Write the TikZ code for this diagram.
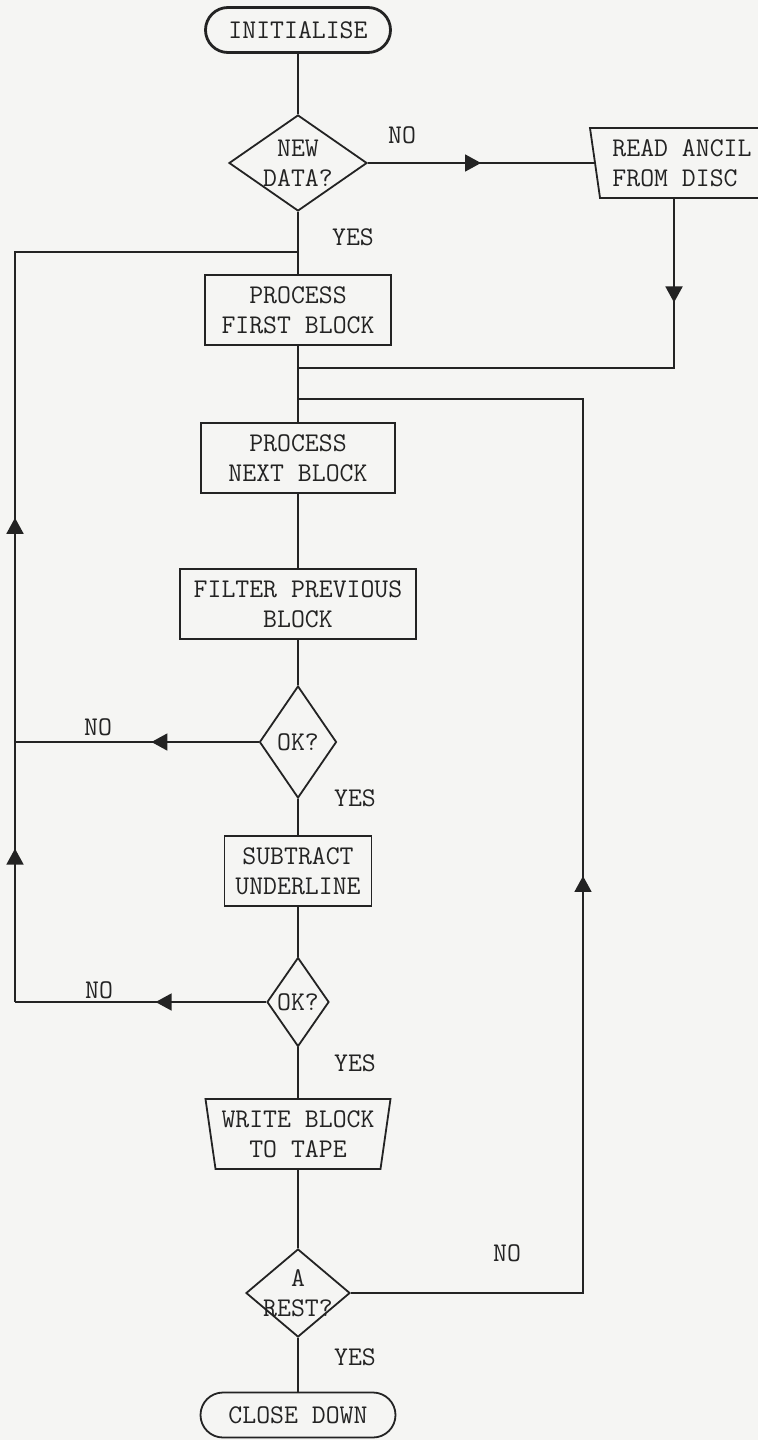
\documentclass[tikz,border=0pt]{standalone}
\usetikzlibrary{shapes.geometric,shapes.misc,arrows.meta,decorations.markings}
\definecolor{paper}{RGB}{245,245,243}
\definecolor{ink}{RGB}{35,35,35}
\begin{document}
\begin{tikzpicture}[x=0.5pt, y=-0.5pt, line width=0.9pt, color=ink,
    every node/.style={font=\ttfamily\fontsize{13.5}{15}\selectfont},
    term/.style={rounded rectangle, draw, minimum height=22.5pt, inner sep=0pt},
    proc/.style={rectangle, draw, minimum height=35pt, align=center, inner sep=0pt},
    dec/.style={diamond, draw, inner sep=-3pt, align=center},
    io/.style={trapezium, draw, trapezium left angle=102, trapezium right angle=102,
        trapezium stretches body, minimum height=35pt, inner sep=0pt},
    lbl/.style={inner sep=0pt},
    midtip/.style={postaction={decorate}, decoration={markings,
        mark=at position #1 with {\arrow{Triangle[length=8pt, width=8.5pt]}}}}]
            \fill[paper] (0,0) rectangle (758,1440);
            \useasboundingbox (0,0) rectangle (758,1440);
            \clip (0,0) rectangle (758,1440);

            % Nodes
            \node[term, line width=1.4pt, minimum width=92.5pt] (init) at (298,30) {INITIALISE};
            \node[dec, minimum width=69pt, minimum height=48pt, aspect=1.44] (newdata) at (298,163) {NEW\\DATA?};
            \node[io, minimum width=92pt, align=left] (readancil) at (682,163) {READ ANCIL\\FROM DISC};
            \node[proc, minimum width=93pt] (first) at (298,310) {PROCESS\\FIRST BLOCK};
            \node[proc, minimum width=97pt] (next) at (298,458) {PROCESS\\NEXT BLOCK};
            \node[proc, minimum width=118pt] (filter) at (298,604) {FILTER PREVIOUS\\BLOCK};
            \node[dec, minimum width=38.5pt, minimum height=56pt, aspect=0.69] (okone) at (298,742) {OK?};
            \node[proc, minimum width=73.5pt] (subtract) at (298,871) {SUBTRACT\\UNDERLINE};
            \node[dec, minimum width=31pt, minimum height=44.5pt, aspect=0.7] (oktwo) at (298,1002) {OK?};
            \node[io, minimum width=92.5pt, align=center] (write) at (298,1134) {WRITE BLOCK\\TO TAPE};
            \node[dec, minimum width=52pt, minimum height=44pt, aspect=1.18] (rest) at (298,1293) {A\\REST?};
            \node[term, minimum width=97.5pt] (close) at (298,1415) {CLOSE DOWN};

            % Labels
            \node[lbl] (nonew) at (402,135) {NO};
            \node[lbl] (yesnew) at (353,237) {YES};
            \node[lbl] (noone) at (98,727) {NO};
            \node[lbl] (yesone) at (355,798) {YES};
            \node[lbl] (notwo) at (99,990) {NO};
            \node[lbl] (yestwo) at (355,1063) {YES};
            \node[lbl] (norest) at (507,1253) {NO};
            \node[lbl] (yesrest) at (355,1357) {YES};

            % Corners
            \coordinate (loopin) at (298,252);
            \coordinate (lefttop) at (15,252);
            \coordinate (leftmid) at (15,742);
            \coordinate (leftbot) at (15,1002);
            \coordinate (ancilin) at (298,368);
            \coordinate (restin) at (298,399);
            \coordinate (rightbot) at (583,1293);
            \coordinate (righttop) at (583,399);

            % Edges
            \draw (init) -- (newdata);
            \draw (newdata) -- (first);
            \draw (first) -- (next);
            \draw (next) -- (filter);
            \draw (filter) -- (okone);
            \draw (okone) -- (subtract);
            \draw (subtract) -- (oktwo);
            \draw (oktwo) -- (write);
            \draw (write) -- (rest);
            \draw (rest) -- (close);
            \draw[midtip=0.5] (newdata.east) -- (readancil.west);
            \draw[midtip=0.19] ([xshift=-4pt]readancil.south) |- (ancilin);
            \draw[midtip=0.44] (okone.west) -- (leftmid);
            \draw[midtip=0.29] (leftmid) -- (lefttop) -- (loopin);
            \draw[midtip=0.44] (oktwo.west) -- (leftbot);
            \draw[midtip=0.59] (leftbot) -- (leftmid);
            \draw[midtip=0.46] (rest.east) -- (rightbot) -- (righttop) -- (restin);
        \end{tikzpicture}
\end{document}
